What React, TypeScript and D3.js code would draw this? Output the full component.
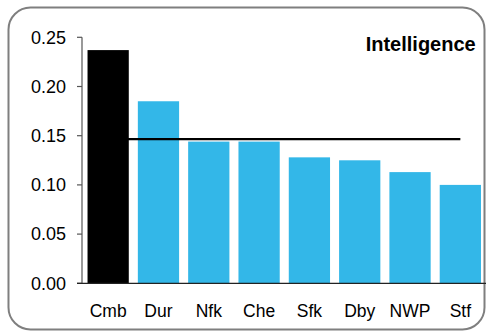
import * as d3 from 'd3';

const categories = ['Cmb', 'Dur', 'Nfk', 'Che', 'Sfk', 'Dby', 'NWP', 'Stf'];
const values = [0.237, 0.185, 0.144, 0.144, 0.128, 0.125, 0.113, 0.1];
const barColors = ['#000000', '#33B7E8', '#33B7E8', '#33B7E8', '#33B7E8', '#33B7E8', '#33B7E8', '#33B7E8'];
const yTicks = [0, 0.05, 0.1, 0.15, 0.2, 0.25];
const average = 0.1465;
const title = 'Intelligence';

export default function App() {
  const width = 486;
  const height = 332;
  const font = '"Liberation Sans", Arial, sans-serif';

  // X scale (regions)
  const x = d3.scaleBand().domain(categories).range([83, 485.5]).paddingInner(0.18).paddingOuter(0.09);

  // Y scale (value)
  const y = d3.scaleLinear().domain([0, 0.25]).range([283.3, 37.3]);

  const first = categories[0];
  const last = categories[categories.length - 1];

  return (
    <svg
      width={width}
      height={height}
      style={{ position: 'absolute', left: 0, top: 0 }}
      fontFamily={font}
    >
      <rect x={0} y={0} width={width} height={height} fill="#fff" />
      {/* frame */}
      <rect x={8.5} y={7.5} width={476} height={322} rx={22} fill="none" stroke="#7f7f7f" strokeWidth={2} />

      {/* Bars */}
      {categories.map((c, i) => (
        <rect
          key={c}
          x={x(c)}
          y={y(values[i])}
          width={x.bandwidth()}
          height={y(0) - y(values[i])}
          fill={barColors[i]}
        />
      ))}

      {/* average line */}
      <line
        x1={x(first)! + x.bandwidth() / 2}
        x2={x(last)! + x.bandwidth() / 2}
        y1={y(average)}
        y2={y(average)}
        stroke="#000"
        strokeWidth={2.3}
      />

      {/* Y Axis */}
      <line x1={82} x2={82} y1={y(0.25)} y2={y(0)} stroke="#808080" strokeWidth={1.6} />
      {yTicks.map((t) => (
        <g key={t}>
          <line x1={77} x2={82} y1={y(t)} y2={y(t)} stroke="#555" strokeWidth={1.2} />
          <text x={66} y={y(t)} dy="0.35em" textAnchor="end" fontSize={18} fill="#000">
            {d3.format('.2f')(t)}
          </text>
        </g>
      ))}

      {/* X Axis */}
      <line x1={77} x2={486} y1={y(0)} y2={y(0)} stroke="#222" strokeWidth={1.3} />
      {categories.map((c) => (
        <text key={c} x={x(c)! + x.bandwidth() / 2} y={316.7} textAnchor="middle" fontSize={17.5} fill="#000">
          {c}
        </text>
      ))}

      <text x={475.7} y={50.7} textAnchor="end" fontSize={20} fontWeight="bold" fill="#000">
        {title}
      </text>
    </svg>
  );
}
